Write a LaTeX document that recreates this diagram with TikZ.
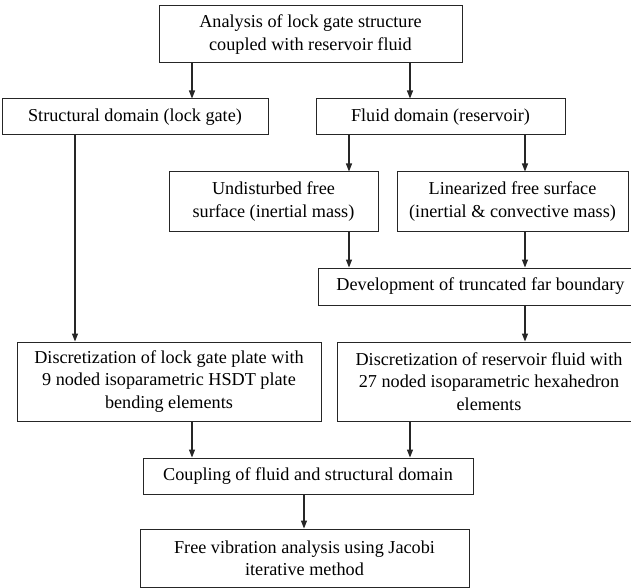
\documentclass[tikz,border=0pt]{standalone}
\usepackage{fontspec}
\setmainfont{Liberation Serif}
\usetikzlibrary{arrows.meta}
\begin{document}
\begin{tikzpicture}[x=1pt,y=-1pt,
  box/.style={draw=black!85, line width=1pt, inner sep=0pt, align=center,
    font=\fontsize{18.2}{22.3}\selectfont, text=black},
  arr/.style={draw=black!85, line width=1.2pt, -{Triangle[length=8pt,width=6pt]}}]
\useasboundingbox (0,0) rectangle (631,588);
\clip (0,0) rectangle (631,588);
\node[box, minimum width=303pt, minimum height=57pt] (top) at (310.5,34.5)
  {Analysis of lock gate structure\\coupled with reservoir fluid};
\node[box, minimum width=266pt, minimum height=36pt] (struct) at (135,117)
  {Structural domain (lock gate)};
\node[box, minimum width=249pt, minimum height=36pt] (fluid) at (440.5,117)
  {Fluid domain (reservoir)};
\node[box, minimum width=209pt, minimum height=59pt] (undist) at (273.5,201.5)
  {Undisturbed free\\surface (inertial mass)};
\node[box, minimum width=231pt, minimum height=59pt] (linear) at (512.5,201.5)
  {Linearized free surface\\(inertial \& convective mass)};
\node[box, minimum width=325pt, minimum height=37pt] (devel) at (480.5,286.5)
  {Development of truncated far boundary};
\node[box, minimum width=304pt, minimum height=79pt] (discL) at (169,381.5)
  {Discretization of lock gate plate with\\9 noded isoparametric HSDT plate\\bending elements};
\node[box, minimum width=304pt, minimum height=79pt] (discR) at (489,381.5)
  {Discretization of reservoir fluid with\\27 noded isoparametric hexahedron\\elements};
\node[box, minimum width=330pt, minimum height=36pt] (coup) at (308,476)
  {Coupling of fluid and structural domain};
\node[box, minimum width=329pt, minimum height=58pt] (free) at (304.5,558)
  {Free vibration analysis using Jacobi\\iterative method};
\draw[arr] (top.south -| 192,0) -- (struct.north -| 192,0);
\draw[arr] (top.south -| 410,0) -- (fluid.north -| 410,0);
\draw[arr] (struct.south -| 75,0) -- (discL.north -| 75,0);
\draw[arr] (fluid.south -| 349,0) -- (undist.north -| 349,0);
\draw[arr] (fluid.south -| 525,0) -- (linear.north -| 525,0);
\draw[arr] (undist.south -| 349,0) -- (devel.north -| 349,0);
\draw[arr] (linear.south -| 525,0) -- (devel.north -| 525,0);
\draw[arr] (devel.south -| 525,0) -- (discR.north -| 525,0);
\draw[arr] (discL.south -| 192,0) -- (coup.north -| 192,0);
\draw[arr] (discR.south -| 410,0) -- (coup.north -| 410,0);
\draw[arr] (coup.south -| 304,0) -- (free.north -| 304,0);
\end{tikzpicture}
\end{document}
